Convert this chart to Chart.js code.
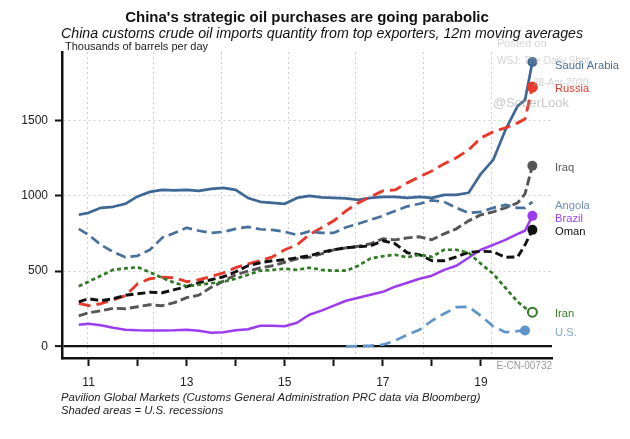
<!DOCTYPE html>
<html>
<head>
<meta charset="utf-8">
<script src="https://cdn.jsdelivr.net/npm/chart.js@4.4.1/dist/chart.umd.min.js"></script>
<style>
  html, body { margin: 0; padding: 0; background: #fff; }
  #wrap { width: 630px; height: 439px; }
</style>
</head>
<body>
<div id="wrap"><canvas id="chart" width="630" height="439"></canvas></div>
<script>
// China crude imports by exporter, 12m moving averages (thousand bbl/day)
// x values are years since 2000 (11 = 2011)

const years = [10.8, 11, 11.25, 11.5, 11.75, 12, 12.25, 12.5, 12.75, 13, 13.25, 13.5, 13.75,
    14, 14.25, 14.5, 14.75, 15, 15.25, 15.5, 15.75, 16, 16.25, 16.5, 16.75, 17, 17.25,
    17.5, 17.75, 18, 18.25, 18.5, 18.75, 19, 19.25, 19.5, 19.75, 19.9, 20.05];

const saudi = [873, 886, 919, 926, 946, 995, 1025, 1038, 1035, 1038, 1032, 1045, 1052,
    1038, 985, 959, 952, 946, 985, 999, 989, 985, 982, 972, 985, 992, 992,
    985, 992, 985, 1005, 1005, 1019, 1145, 1237, 1436, 1595, 1635, 1887];

const russia = [286, 270, 283, 309, 336, 416, 449, 459, 455, 429, 442, 464, 488,
    522, 548, 568, 594, 641, 674, 740, 787, 833, 899, 952, 992, 1032, 1038,
    1085, 1125, 1164, 1211, 1251, 1304, 1383, 1423, 1450, 1483, 1509, 1720];

const iraq = [203, 223, 236, 253, 250, 263, 276, 270, 290, 323, 340, 392, 432,
    475, 500, 520, 535, 558, 581, 591, 614, 641, 654, 664, 681, 714, 707,
    720, 727, 707, 747, 780, 833, 873, 893, 919, 952, 1012, 1198];

const angola = [780, 740, 674, 627, 591, 601, 641, 720, 753, 787, 767, 753, 760,
    780, 793, 777, 773, 760, 740, 763, 753, 753, 790, 813, 840, 866, 899,
    929, 946, 969, 959, 919, 886, 893, 919, 939, 919, 919, 959];

const brazil = [144, 150, 140, 124, 111, 107, 106, 106, 107, 111, 104, 91, 94,
    107, 114, 137, 137, 134, 157, 210, 237, 270, 303, 323, 343, 362, 396,
    422, 449, 469, 508, 535, 588, 641, 674, 707, 747, 767, 866];

const oman = [296, 316, 303, 316, 339, 349, 359, 356, 376, 396, 422, 442, 462,
    495, 535, 555, 568, 575, 588, 601, 624, 641, 654, 661, 667, 701, 681,
    621, 608, 568, 568, 594, 624, 631, 628, 591, 594, 674, 773];

const iran = [399, 429, 469, 508, 518, 525, 492, 455, 422, 399, 409, 419, 429,
    449, 475, 502, 508, 515, 508, 522, 508, 502, 502, 535, 584, 598, 608,
    591, 608, 594, 641, 641, 621, 548, 482, 389, 296, 256, 227];

const us = [null, null, null, null, null, null, null, null, null, null, null, null, null,
    null, null, null, null, null, null, null, null, null, 0, 3, 5, 11, 38,
    78, 111, 170, 217, 260, 263, 203, 134, 94, 101, 106, null];

const xTickYears = [11, 12, 13, 14, 15, 16, 17, 18, 19];
const yTickValues = [0, 500, 1000, 1500];
const gridYears = [10.97, 12.33, 13.71, 15.08, 16.45, 17.82, 19.21];

const FONT = '"Liberation Sans", Arial, Helvetica, sans-serif';

function toPoints(values) {
    const pts = [];
    values.forEach((v, i) => { if (v !== null) pts.push({ x: years[i], y: v }); });
    return pts;
}

function makeSeries(label, values, color, width, dash, markerR, hollow) {
    const pts = toPoints(values);
    const last = pts.length - 1;
    return {
        label: label,
        data: pts,
        borderColor: color,
        borderWidth: width,
        borderDash: dash,
        borderCapStyle: 'butt',
        borderJoinStyle: 'round',
        tension: 0,
        fill: false,
        pointRadius: c => (c.dataIndex === last ? markerR : 0),
        pointHoverRadius: 0,
        pointBackgroundColor: hollow ? '#ffffff' : color,
        pointBorderColor: color,
        pointBorderWidth: hollow ? 2 : 0
    };
}

const datasets = [
    makeSeries('U.S.', us, '#5d95c9', 2.7, [11, 6], 5, false),
    makeSeries('Iran', iran, '#2f7a22', 2.7, [4, 3], 4.5, true),
    makeSeries('Oman', oman, '#111111', 2.9, [8, 4], 5, false),
    makeSeries('Brazil', brazil, '#9b3cee', 2.5, [], 5, false),
    makeSeries('Angola', angola, '#48709c', 2.7, [10, 5], 0, false),
    makeSeries('Iraq', iraq, '#555555', 2.9, [9, 4], 5, false),
    makeSeries('Russia', russia, '#e83a2c', 2.9, [12, 6], 5.5, false),
    makeSeries('Saudi Arabia', saudi, '#3e6796', 2.7, [], 5, false)
];

const sideLabels = [
    { text: 'Saudi Arabia', color: '#4d6f9b', y: 66 },
    { text: 'Russia', color: '#e2392c', y: 89 },
    { text: 'Iraq', color: '#555555', y: 168 },
    { text: 'Angola', color: '#6f90b9', y: 206 },
    { text: 'Brazil', color: '#a043ee', y: 219 },
    { text: 'Oman', color: '#111111', y: 232 },
    { text: 'Iran', color: '#3d7a30', y: 314 },
    { text: 'U.S.', color: '#80a8d3', y: 333 }
];

const textPlugin = {
    id: 'texts',
    beforeDraw(chart) {
        const ctx = chart.ctx;
        ctx.save();
        ctx.fillStyle = '#ffffff';
        ctx.fillRect(0, 0, chart.width, chart.height);
        ctx.restore();
    },
    afterDraw(chart) {
        const ctx = chart.ctx;
        ctx.save();
        ctx.textBaseline = 'middle';

        ctx.fillStyle = '#111';
        ctx.textAlign = 'center';
        ctx.font = 'bold 15px ' + FONT;
        ctx.fillText("China's strategic oil purchases are going parabolic", 307, 18);
        ctx.font = 'italic 14.2px ' + FONT;
        ctx.fillText('China customs crude oil imports quantity from top exporters, 12m moving averages', 322, 34);

        ctx.textAlign = 'left';
        ctx.font = '11px ' + FONT;
        ctx.fillStyle = '#222';
        ctx.fillText('Thousands of barrels per day', 65, 47);

        ctx.font = '11.2px ' + FONT;
        sideLabels.forEach(l => {
            ctx.fillStyle = l.color;
            ctx.fillText(l.text, 555, l.y);
        });

        ctx.fillStyle = '#9a9a9a';
        ctx.font = '10px ' + FONT;
        ctx.textAlign = 'right';
        ctx.fillText('E-CN-00732', 552, 366);

        ctx.textAlign = 'left';
        ctx.fillStyle = '#222';
        ctx.font = 'italic 11.3px ' + FONT;
        ctx.fillText('Pavilion Global Markets (Customs General Administration PRC data via Bloomberg)', 61, 398);
        ctx.fillText('Shaded areas = U.S. recessions', 61, 411);

        // watermark
        ctx.globalAlpha = 0.55;
        ctx.fillStyle = '#b0b0b0';
        ctx.font = '11px ' + FONT;
        ctx.fillText('Posted on', 497, 44);
        ctx.font = '10px ' + FONT;
        ctx.fillText('WSJ: The Daily Shot', 497, 61);
        ctx.fillText('28-Apr-2020', 533, 83);
        ctx.font = '13px ' + FONT;
        ctx.fillStyle = '#999';
        ctx.fillText('@SoberLook', 493, 103);
        ctx.restore();
    }
};

new Chart(document.getElementById('chart'), {
    type: 'line',
    data: { datasets: datasets },
    options: {
        responsive: false,
        devicePixelRatio: 1,
        animation: false,
        layout: { padding: { top: 52, right: 78, bottom: 0, left: 0 } },
        plugins: {
            legend: { display: false },
            tooltip: { enabled: false }
        },
        scales: {
            x: {
                type: 'linear',
                position: 'bottom',
                min: 10.458,
                max: 20.45,
                afterBuildTicks: s => { s.ticks = xTickYears.map(v => ({ value: v })); },
                afterFit: s => { s.height = 81; },
                ticks: {
                    color: '#222',
                    font: { family: FONT, size: 12 },
                    padding: 9,
                    maxRotation: 0,
                    autoSkip: false,
                    callback: v => (v % 2 === 1 ? String(v) : '')
                },
                grid: {
                    drawOnChartArea: false,
                    drawTicks: true,
                    tickLength: 8,
                    tickColor: '#111',
                    tickWidth: 2
                },
                border: { display: true, color: '#111', width: 2.5 }
            },
            xg: {
                type: 'linear',
                position: 'top',
                min: 10.458,
                max: 20.45,
                afterBuildTicks: s => { s.ticks = gridYears.map(v => ({ value: v })); },
                afterFit: s => { s.height = 0; },
                ticks: { display: false },
                grid: { color: '#cfcfcf', lineWidth: 1, drawTicks: false },
                border: { display: false, dash: [2, 3] }
            },
            y: {
                type: 'linear',
                min: -77,
                max: 1953,
                afterBuildTicks: s => { s.ticks = yTickValues.map(v => ({ value: v })); },
                afterFit: s => { s.width = 62; },
                ticks: {
                    color: '#222',
                    font: { family: FONT, size: 12 },
                    padding: 7,
                    callback: v => String(v)
                },
                grid: {
                    color: c => (c.tick && c.tick.value === 0 ? '#111' : '#cfcfcf'),
                    lineWidth: c => (c.tick && c.tick.value === 0 ? 2.2 : 1),
                    tickLength: 7,
                    tickColor: '#111',
                    tickWidth: 2
                },
                border: {
                    display: true,
                    color: '#111',
                    width: 2.5,
                    dash: c => (c.tick && c.tick.value === 0 ? [] : [2, 3])
                }
            }
        }
    },
    plugins: [textPlugin]
});
</script>
</body>
</html>
